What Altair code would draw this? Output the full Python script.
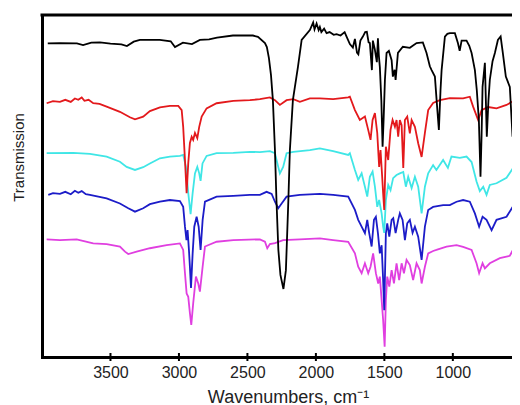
import altair as alt
import pandas as pd

black = [(3958, 91.7), (3870, 91.8), (3745, 91.7), (3700, 91.2), (3640, 91.9), (3577, 92.0),
         (3500, 91.6), (3420, 91.4), (3380, 90.9), (3330, 92.2), (3285, 92.7), (3140, 92.7),
         (3060, 92.3), (3029, 90.6), (2971, 91.9), (2905, 91.5), (2847, 92.7), (2780, 92.9),
         (2722, 93.4), (2606, 94.0), (2460, 94.0), (2423, 93.6), (2372, 91.8), (2358, 90.6),
         (2343, 87.4), (2328, 82.5), (2314, 75.1), (2299, 60.5), (2288, 45.9), (2274, 31.3),
         (2259, 24.0), (2237, 19.9), (2219, 25.4), (2201, 45.9), (2190, 60.5), (2168, 75.1),
         (2131, 84.8), (2104, 92.7), (2044, 95.6), (2020, 97.8), (2010, 95.8), (1995, 97.5),
         (1980, 95.6), (1971, 96.5), (1960, 95.0), (1940, 96.0), (1922, 94.7), (1900, 95.0),
         (1870, 94.2), (1849, 94.4), (1820, 94.0), (1790, 95.0), (1776, 93.7), (1752, 91.5),
         (1730, 90.5), (1715, 93.0), (1700, 89.0), (1690, 88.5), (1675, 92.5), (1657, 93.7),
         (1640, 95.0), (1628, 95.1), (1615, 92.0), (1606, 91.8), (1591, 83.9), (1584, 92.5),
         (1570, 90.0), (1555, 86.2), (1547, 93.2), (1540, 88.0), (1533, 84.8), (1522, 75.0),
         (1513, 61.5), (1505, 70.0), (1496, 81.0), (1484, 88.9), (1467, 89.5), (1447, 86.8),
         (1438, 82.0), (1425, 84.0), (1418, 81.0), (1401, 88.9), (1365, 90.7), (1314, 90.4),
         (1265, 91.8), (1219, 92.0), (1192, 88.9), (1168, 85.0), (1155, 83.9), (1131, 82.0),
         (1117, 74.3), (1102, 66.4), (1090, 78.0), (1082, 83.9), (1058, 93.7), (1040, 94.5),
         (1022, 94.7), (985, 94.7), (963, 91.8), (950, 89.5), (936, 92.5), (900, 92.5),
         (880, 91.0), (863, 88.9), (839, 83.9), (825, 78.0), (810, 69.3), (798, 52.7),
         (790, 65.0), (783, 79.0), (766, 86.0), (752, 64.4), (740, 75.0), (730, 81.0),
         (710, 86.5), (693, 88.9), (671, 92.7), (651, 93.7), (635, 88.9), (613, 82.0),
         (584, 79.0), (564, 64.4), (547, 81.0), (525, 93.7), (511, 98.5)]

red = [(3966, 74.2), (3920, 74.8), (3869, 74.6), (3830, 75.2), (3790, 74.6), (3760, 75.6),
       (3735, 75.2), (3710, 75.9), (3690, 74.9), (3660, 75.2), (3626, 74.2), (3580, 74.0),
       (3528, 73.2), (3431, 71.7), (3358, 70.1), (3321, 69.5), (3261, 70.3), (3212, 71.9),
       (3139, 73.0), (3066, 73.4), (3005, 73.4), (2980, 72.2), (2969, 67.3), (2956, 57.6),
       (2944, 47.9), (2932, 56.7), (2920, 62.6), (2907, 64.4), (2896, 63.5), (2883, 65.5),
       (2866, 64.0), (2852, 67.3), (2834, 70.3), (2798, 72.7), (2725, 74.2), (2603, 74.9),
       (2482, 75.1), (2409, 75.4), (2336, 75.9), (2299, 75.1), (2263, 73.7), (2214, 75.1),
       (2165, 75.4), (2117, 74.6), (2044, 75.6), (1971, 75.6), (1874, 75.4), (1764, 75.9),
       (1752, 76.1), (1715, 72.2), (1679, 69.3), (1642, 70.3), (1618, 66.4), (1601, 63.5),
       (1586, 69.3), (1569, 71.3), (1552, 65.5), (1538, 55.6), (1528, 60.5), (1516, 52.7),
       (1509, 47.9), (1501, 43.0), (1489, 61.5), (1472, 57.6), (1455, 66.4), (1440, 69.3),
       (1423, 67.3), (1411, 69.3), (1399, 64.4), (1387, 69.3), (1374, 67.8), (1362, 55.3),
       (1350, 69.3), (1333, 70.3), (1314, 65.4), (1301, 69.3), (1277, 67.3), (1253, 62.5),
       (1228, 58.5), (1204, 65.5), (1180, 72.2), (1144, 74.3), (1095, 75.1), (1022, 75.7),
       (925, 75.6), (876, 76.1), (852, 73.2), (815, 69.3), (790, 72.2), (742, 73.1),
       (681, 72.7), (608, 73.7), (547, 75.1), (530, 76.5), (511, 77.6)]

cyan = [(3966, 59.6), (3772, 59.7), (3650, 59.4), (3528, 58.6), (3431, 57.1), (3382, 55.6),
        (3321, 54.7), (3261, 55.5), (3212, 56.6), (3139, 58.1), (3066, 58.6), (2993, 58.8),
        (2969, 59.1), (2949, 55.6), (2932, 47.9), (2915, 41.8), (2900, 47.9), (2883, 53.7),
        (2866, 55.6), (2852, 53.7), (2842, 51.5), (2828, 56.6), (2798, 58.8), (2725, 59.6),
        (2603, 59.7), (2482, 60.0), (2409, 59.9), (2336, 60.2), (2299, 59.6), (2275, 55.6),
        (2263, 53.7), (2239, 55.6), (2214, 59.6), (2165, 60.0), (2044, 60.5), (1971, 61.0),
        (1874, 60.2), (1764, 59.1), (1752, 59.6), (1715, 54.7), (1691, 51.8), (1666, 53.7),
        (1642, 49.8), (1625, 46.9), (1606, 52.7), (1586, 54.2), (1569, 49.8), (1552, 43.9),
        (1538, 45.9), (1520, 42.0), (1509, 38.1), (1501, 36.3), (1489, 45.9), (1472, 50.3),
        (1455, 48.8), (1436, 52.3), (1411, 53.2), (1387, 53.7), (1362, 54.1), (1343, 49.8),
        (1326, 52.7), (1301, 49.4), (1277, 52.7), (1253, 49.8), (1228, 42.0), (1204, 49.8),
        (1180, 53.7), (1144, 56.1), (1120, 54.7), (1071, 57.6), (1036, 55.3), (1010, 58.6),
        (949, 58.2), (900, 58.6), (863, 57.0), (827, 51.3), (803, 48.5), (778, 49.8),
        (754, 47.4), (730, 50.3), (681, 50.8), (608, 52.4), (559, 55.3), (511, 60.5)]

blue = [(3954, 47.4), (3920, 47.9), (3869, 47.7), (3830, 48.3), (3790, 47.6), (3760, 48.6),
        (3735, 48.0), (3710, 48.5), (3680, 47.6), (3650, 47.4), (3528, 46.4), (3431, 44.9),
        (3370, 43.5), (3321, 42.5), (3261, 43.5), (3212, 44.7), (3139, 45.4), (3066, 45.9),
        (2993, 45.6), (2969, 43.9), (2956, 38.1), (2945, 34.2), (2937, 37.1), (2927, 31.3),
        (2920, 26.4), (2912, 20.2), (2900, 30.3), (2888, 38.1), (2871, 41.0), (2856, 38.1),
        (2842, 31.3), (2827, 40.1), (2810, 45.4), (2725, 46.9), (2603, 47.1), (2482, 47.4),
        (2409, 47.4), (2360, 48.3), (2323, 47.7), (2299, 45.4), (2275, 43.5), (2250, 44.9),
        (2214, 46.9), (2117, 47.4), (1971, 47.7), (1874, 47.4), (1764, 46.9), (1715, 43.0),
        (1691, 40.1), (1666, 38.1), (1642, 36.2), (1625, 40.1), (1611, 36.3), (1593, 32.3),
        (1576, 40.1), (1562, 41.0), (1547, 36.2), (1533, 30.3), (1520, 32.7), (1509, 22.5),
        (1501, 13.7), (1489, 36.2), (1479, 39.1), (1464, 35.2), (1447, 40.1), (1435, 40.6),
        (1418, 36.2), (1399, 40.1), (1387, 42.0), (1367, 40.1), (1350, 34.2), (1333, 39.1),
        (1314, 40.1), (1294, 36.3), (1277, 38.1), (1253, 35.2), (1228, 28.4), (1204, 38.1),
        (1180, 43.0), (1144, 43.9), (1071, 44.4), (1022, 44.4), (973, 45.4), (925, 45.9),
        (876, 45.4), (839, 42.0), (808, 38.1), (783, 41.0), (754, 40.1), (717, 37.1),
        (681, 40.1), (608, 41.0), (547, 44.9), (511, 48.8)]

magenta = [(3966, 34.4), (3869, 34.2), (3747, 34.4), (3626, 33.2), (3528, 33.0), (3431, 32.3),
           (3394, 30.8), (3370, 30.1), (3309, 30.8), (3212, 31.8), (3090, 32.7), (2993, 33.2),
           (2969, 31.3), (2956, 24.5), (2944, 18.6), (2932, 17.6), (2920, 12.8), (2910, 9.4),
           (2896, 15.7), (2876, 23.5), (2859, 21.5), (2847, 19.1), (2827, 26.4), (2810, 32.3),
           (2725, 33.7), (2603, 34.2), (2409, 34.4), (2372, 33.7), (2355, 31.8), (2336, 33.0),
           (2299, 33.3), (2239, 34.2), (2117, 34.4), (1971, 34.7), (1874, 34.2), (1764, 33.7),
           (1715, 30.3), (1691, 26.4), (1666, 24.5), (1642, 27.4), (1618, 24.5), (1601, 26.4),
           (1582, 30.3), (1562, 24.5), (1545, 21.5), (1533, 23.5), (1520, 16.7), (1509, 10.8),
           (1498, 3.0), (1489, 16.7), (1479, 23.5), (1464, 20.6), (1447, 25.4), (1430, 21.5),
           (1411, 27.4), (1392, 22.5), (1374, 27.4), (1357, 24.5), (1338, 28.4), (1314, 26.9),
           (1290, 22.5), (1265, 27.4), (1241, 25.4), (1228, 21.5), (1204, 26.4), (1180, 30.3),
           (1144, 31.0), (1120, 31.3), (1046, 32.3), (973, 32.7), (925, 32.2), (863, 31.3),
           (827, 27.4), (808, 24.5), (783, 27.4), (766, 25.9), (730, 27.4), (657, 28.9),
           (584, 29.6), (535, 33.2), (511, 35.2)]

x_ticks = [3500, 3000, 2500, 2000, 1500, 1000]

series = [("magenta", magenta, "#e03fe0"),
          ("blue", blue, "#1c1cc8"),
          ("cyan", cyan, "#3fe6e6"),
          ("red", red, "#e3191c"),
          ("black", black, "#000000")]

rows = []
for name, pts, _ in series:
    for wn, t in pts:
        rows.append({"series": name, "wn": wn, "t": t})
df = pd.DataFrame(rows)

W, H = 470, 342
FONT = "Liberation Sans"

x_scale = alt.Scale(domain=[568, 4000], reverse=True, nice=False, zero=False)
y_scale = alt.Scale(domain=[0, 100], nice=False, zero=False)

x_axis = alt.Axis(values=x_ticks, format="d", ticks=False, grid=False,
                  domainWidth=3, domainColor="black", domainCap="square",
                  labelFont=FONT, labelFontSize=16, labelColor="#222222", labelPadding=7,
                  title="Wavenumbers, cm\u207b\u00b9", titleFont=FONT, titleFontSize=18,
                  titleFontWeight="normal", titleColor="#222222",
                  titleX=246, titleY=31, titleAlign="center", titleBaseline="top")
y_axis = alt.Axis(ticks=False, labels=False, grid=False,
                  domainWidth=3, domainColor="black", domainCap="square",
                  title="Transmission", titleFont=FONT, titleFontSize=15,
                  titleFontWeight="normal", titleColor="#222222",
                  titleX=-19, titleY=142, titleAlign="center", titleBaseline="alphabetic",
                  titleAngle=270)

enc_x = alt.X("wn:Q", scale=x_scale, axis=x_axis)
enc_y = alt.Y("t:Q", scale=y_scale, axis=y_axis)

layers = []
for name, pts, color in series:
    layers.append(
        alt.Chart(df).transform_filter(alt.datum.series == name)
        .mark_line(color=color, strokeWidth=1.8, interpolate="linear", clip=True)
        .encode(x=enc_x, y=enc_y, order="wn:Q")
    )

tick_df = pd.DataFrame({"wn": x_ticks})
ticks = alt.Chart(tick_df).mark_rule(color="black", strokeWidth=2).encode(
    x=enc_x, y=alt.value(H - 4), y2=alt.value(H + 4))

top_border = alt.Chart(pd.DataFrame({"a": [0]})).mark_rule(color="black", strokeWidth=3).encode(
    x=alt.value(-1.5), x2=alt.value(W + 2), y=alt.value(0))

chart = alt.layer(*layers, ticks, top_border).properties(
    width=W, height=H,
    autosize=alt.AutoSizeParams(type="none"),
    padding={"left": 34, "top": 7, "right": 0, "bottom": 48},
    background="white",
).configure_view(stroke=None)

chart.save("out.html", embed_options={"renderer": "svg", "actions": False})
